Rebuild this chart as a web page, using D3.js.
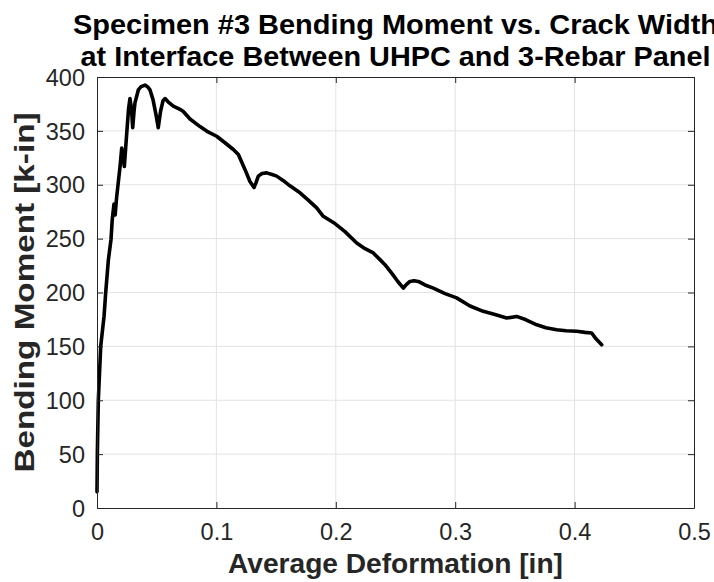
<!DOCTYPE html>
<html>
<head>
<meta charset="utf-8">
<script src="https://cdn.jsdelivr.net/npm/d3@7"></script>
<style>
html,body{margin:0;padding:0;background:#fff;}
svg{display:block;}
text{font-family:"Liberation Sans",Arial,Helvetica,sans-serif;}
</style>
</head>
<body>
<script>
// ---- data ----
const deformation = [0.0000,0.0003,0.0011,0.0031,0.0059,0.0073,0.0095,0.0117,0.0128,0.0142,0.0152,0.0165,0.0193,0.0207,0.0218,0.0229,0.0249,0.0264,0.0276,0.0289,0.0299,0.0310,0.0318,0.0346,0.0369,0.0402,0.0423,0.0444,0.0469,0.0494,0.0513,0.0532,0.0553,0.0570,0.0595,0.0639,0.0695,0.0723,0.0779,0.0863,0.0930,0.1002,0.1072,0.1142,0.1184,0.1240,0.1281,0.1315,0.1332,0.1351,0.1382,0.1421,0.1466,0.1505,0.1558,0.1616,0.1700,0.1767,0.1840,0.1895,0.1993,0.2077,0.2175,0.2245,0.2314,0.2370,0.2412,0.2471,0.2521,0.2566,0.2588,0.2621,0.2655,0.2691,0.2747,0.2817,0.2915,0.3012,0.3124,0.3235,0.3333,0.3431,0.3515,0.3593,0.3683,0.3760,0.3850,0.3928,0.4018,0.4087,0.4143,0.4179,0.4227];
const moment = [15,51,100,150,178,200,230,249,268,282,272,289,317,334,325,317,348,370,380,370,353,368,376,388,391,392.5,391,388,379,365,353,368,378,380,377,373,370,368,361,354,349,345,339,332.7,328,314,303,297.5,302,308,310.5,311,309.5,308,304,299,292.5,286,278.5,270.7,264,256.5,246,240.7,236.7,230.5,225.8,217.5,210,204,207,210.3,211,210.3,207,204,199,195,187.5,182.5,179.5,176.3,177.8,174.7,170,167.3,165.4,164.5,164,163,162.4,157,151.5];
const xTicks = [0,0.1,0.2,0.3,0.4,0.5];
const xTickLabels = ["0","0.1","0.2","0.3","0.4","0.5"];
const yTicks = [0,50,100,150,200,250,300,350,400];
const yTickLabels = ["0","50","100","150","200","250","300","350","400"];
const titleLines = ["Specimen #3 Bending Moment vs. Crack Width","at Interface Between UHPC and 3-Rebar Panel"];
const xLabel = "Average Deformation [in]";
const yLabel = "Bending Moment [k-in]";

// ---- layout ----
const W = 714, H = 582;
const L = 97, R = 694, T = 77, B = 508;
const axisColor = "#262626", gridColor = "#e3e3e3";

const svg = d3.select("body").append("svg").attr("width", W).attr("height", H);
const x = d3.scaleLinear().domain([0,0.5]).range([L,R]);
const y = d3.scaleLinear().domain([0,400]).range([B,T]);

// grid
svg.append("g").selectAll("line").data(xTicks.slice(1,-1)).join("line")
  .attr("x1",d=>x(d)).attr("x2",d=>x(d)).attr("y1",T).attr("y2",B)
  .attr("stroke",gridColor).attr("stroke-width",1);
svg.append("g").selectAll("line").data(yTicks.slice(1,-1)).join("line")
  .attr("y1",d=>y(d)).attr("y2",d=>y(d)).attr("x1",L).attr("x2",R)
  .attr("stroke",gridColor).attr("stroke-width",1);

// data line
const pts = deformation.map((d,i)=>[d, moment[i]]);
svg.append("path").datum(pts)
  .attr("d", d3.line().x(d=>x(d[0])).y(d=>y(d[1])))
  .attr("fill","none").attr("stroke","#000").attr("stroke-width",3.6)
  .attr("stroke-linejoin","round").attr("stroke-linecap","round");

// axes (box, inward ticks)
const tl = 6;
const gBottom = svg.append("g").attr("transform",`translate(0,${B})`)
  .call(d3.axisBottom(x).tickValues(xTicks).tickFormat((d,i)=>xTickLabels[i]).tickSizeInner(-tl).tickSizeOuter(0).tickPadding(15));
const gLeft = svg.append("g").attr("transform",`translate(${L},0)`)
  .call(d3.axisLeft(y).tickValues(yTicks).tickFormat((d,i)=>yTickLabels[i]).tickSizeInner(-tl).tickSizeOuter(0).tickPadding(12));
const gTop = svg.append("g").attr("transform",`translate(0,${T})`)
  .call(d3.axisTop(x).tickValues(xTicks).tickFormat("").tickSizeInner(-tl).tickSizeOuter(0));
const gRight = svg.append("g").attr("transform",`translate(${R},0)`)
  .call(d3.axisRight(y).tickValues(yTicks).tickFormat("").tickSizeInner(-tl).tickSizeOuter(0));
[gBottom,gLeft,gTop,gRight].forEach(g=>{
  g.select(".domain").attr("stroke",axisColor).attr("stroke-width",1);
  g.selectAll(".tick line").attr("stroke",axisColor);
  g.selectAll(".tick text").attr("fill",axisColor).style("font-size","23.5px").style("font-family","'Liberation Sans',Arial,sans-serif");
});
gBottom.selectAll(".tick text").attr("dy","0.71em");
gLeft.selectAll(".tick text").attr("dy","0.35em");

// titles
const cx = (L+R)/2;
const t1 = svg.append("text").attr("x",cx).attr("y",33.5).attr("text-anchor","middle")
  .style("font-size","28px").style("font-weight","bold").attr("fill","#000").text(titleLines[0]);
const t2 = svg.append("text").attr("x",cx).attr("y",65.5).attr("text-anchor","middle")
  .style("font-size","28px").style("font-weight","bold").attr("fill","#000").text(titleLines[1]);
t1.attr("textLength",645).attr("lengthAdjust","spacingAndGlyphs");
t2.attr("textLength",630).attr("lengthAdjust","spacingAndGlyphs");

svg.append("text").attr("x",cx).attr("y",573).attr("text-anchor","middle")
  .style("font-size","28px").style("font-weight","bold").attr("fill",axisColor)
  .attr("textLength",335).attr("lengthAdjust","spacingAndGlyphs").text(xLabel);
svg.append("text").attr("transform",`translate(34,${(T+B)/2}) rotate(-90)`).attr("text-anchor","middle")
  .style("font-size","28px").style("font-weight","bold").attr("fill",axisColor)
  .attr("textLength",360).attr("lengthAdjust","spacingAndGlyphs")
  .text(yLabel);
</script>
</body>
</html>
